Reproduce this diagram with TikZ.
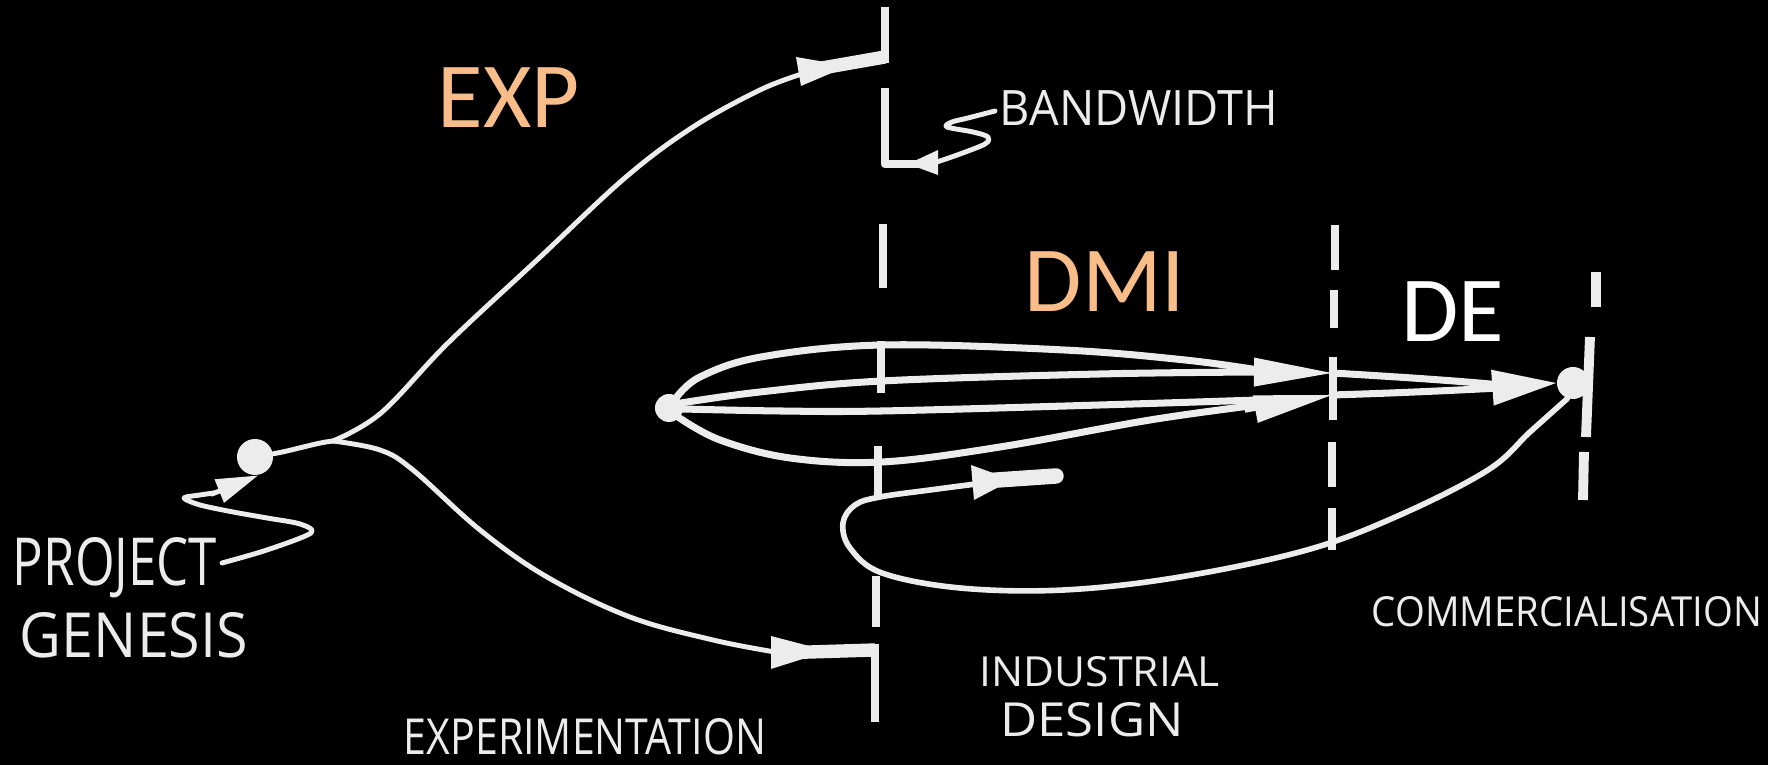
\documentclass[tikz,border=0pt]{standalone}
\usepackage{fontspec}
\usepackage{graphicx}
\newfontfamily\calfont{Carlito}
\newfontfamily\handfont{Open Sans}
\usetikzlibrary{arrows.meta}
\definecolor{chalk}{RGB}{236,236,236}
\definecolor{accent}{RGB}{248,189,137}
\begin{document}
\begin{tikzpicture}[x=0.01cm,y=-0.01cm,line join=round,
  curveline/.style={draw=chalk,line width=1.4pt,line cap=round},
  dmiline/.style={draw=chalk,line width=2pt,line cap=round},
  loopline/.style={draw=chalk,line width=1.6pt,line cap=round},
  vbar/.style={draw=chalk,line width=2.4pt},
  thinbar/.style={draw=chalk,line width=2pt},
  fatbar/.style={draw=chalk,line width=3.8pt},
  dot/.style={circle,fill=chalk,inner sep=0pt},
  bigtxt/.style={font=\calfont\fontsize{26.5}{30}\selectfont,inner sep=0pt},
  hand/.style={text=chalk,inner sep=0pt,font=\handfont},
  headtip/.style={draw=chalk,fill=chalk,line width=1pt}]
\fill[black] (0,0) rectangle (1768,765);
\useasboundingbox (0,0) rectangle (1768,765);

% ---------- labels ----------
\node[bigtxt,text=accent] (exp) at (509,98) {EXP};
\node[bigtxt,text=accent] (dmi) at (1105,282) {DMI};
\node[bigtxt,text=white] (de) at (1453,312) {DE};
\node[hand] (bw) at (1139,108) {\resizebox{2.78cm}{0.35cm}{BANDWIDTH}};
\node[hand] (pj) at (115,568) {\resizebox{2.04cm}{0.48cm}{PROJECT}};
\node[hand] (gn) at (134,635) {\resizebox{2.28cm}{0.45cm}{GENESIS}};
\node[hand] (ex) at (585,737) {\resizebox{3.62cm}{0.36cm}{EXPERIMENTATION}};
\node[hand] (ind) at (1100,672) {\resizebox{2.40cm}{0.30cm}{INDUSTRIAL}};
\node[hand] (des) at (1092,720) {\resizebox{1.83cm}{0.34cm}{DESIGN}};
\node[hand] (com) at (1567,612) {\resizebox{3.90cm}{0.30cm}{COMMERCIALISATION}};

% ---------- dashed stage boundaries ----------
\draw[vbar] (885,7) -- (885,63);
\draw[vbar] (885,88) -- (885,164) -- (925,164);
\draw[vbar] (883,224) -- (883,288);
\draw[vbar] (881,341) -- (881,393);
\draw[vbar] (878,446) -- (878,498);
\draw[vbar] (876,576) -- (876,627);
\draw[vbar] (875,644) -- (875,722);

\draw[thinbar] (1335,225) -- (1335,270);
\draw[thinbar] (1334,290) -- (1334,328);
\draw[thinbar] (1333,357) -- (1333,420);
\draw[thinbar] (1332,442) -- (1332,487);
\draw[thinbar] (1332,508) -- (1332,550);

\draw[line width=2.8pt,draw=chalk] (1596,272) -- (1596,307);
\draw[line width=2.8pt,draw=chalk] (1590,337) -- (1586,437);
\draw[line width=2.8pt,draw=chalk] (1584,452) -- (1583,500);

% ---------- dots ----------
\node[dot,minimum size=0.36cm] (dotA) at (255,457) {};
\node[dot,minimum size=0.28cm] (dotB) at (669,408) {};
\node[dot,minimum size=0.32cm] (dotC) at (1573,383) {};

% ---------- EXP branches ----------
\coordinate (br) at (333,441);
\draw[curveline] (dotA.10) .. controls (295,450) and (315,443) .. (br);
\draw[curveline] plot[smooth,tension=0.6] coordinates {(333,441) (381,413) (448,343) (537,260) (626,177) (693,127) (760,90) (802,74)};
\coordinate (topend) at (885,57);
\draw[fatbar] (805,71) -- (topend);
\fill[chalk] (796,57) -- (801,86) -- (848,66) -- cycle;

\draw[curveline] plot[smooth,tension=0.6] coordinates {(333,441) (380,450) (413,470) (480,530) (547,577) (630,617) (713,640) (775,652)};
\coordinate (lowend) at (875,650);
\draw[fatbar] (778,653) -- (lowend);
\fill[chalk] (771,636) -- (771,669) -- (828,651) -- cycle;

% ---------- bandwidth pointer ----------
\fill[chalk] (938,150) -- (938,175) -- (908,164) -- cycle;
\draw[curveline] plot[smooth,tension=0.55] coordinates {(937,162) (960,154) (985,144) (988,137) (973,132) (947,127) (952,122) (968,118) (995,111)};

% ---------- project genesis pointer ----------
\draw[curveline] plot[smooth,tension=0.5] coordinates {(222,563) (267,550) (311,533) (300,524) (267,518) (233,512) (200,505) (184,498) (200,495) (214,493)};
\draw[curveline,-{Triangle[length=0.42cm,width=0.24cm]}] (212,494) -- (dotA.-80);

% ---------- DMI bundle ----------
\draw[dmiline] plot[smooth,tension=0.6] coordinates {(676,398) (700,377) (761,357) (882,345) (1064,350) (1185,360) (1258,370)};
\draw[dmiline] plot[smooth,tension=0.6] coordinates {(681,403) (760,392) (882,381) (1100,374) (1258,372)};
\draw[dmiline] plot[smooth,tension=0.6] coordinates {(682,409) (780,411) (882,411) (1100,405) (1258,400)};
\draw[dmiline] plot[smooth,tension=0.6] coordinates {(678,417) (720,440) (790,458) (882,462) (1000,447) (1150,420) (1258,405)};
\coordinate (t1) at (1332,373);
\coordinate (t2) at (1332,395);
\draw[headtip,-{Triangle[length=0.78cm,width=0.28cm]}] (1245,372) -- (t1);
\draw[headtip,-{Triangle[length=0.78cm,width=0.27cm]}] (1245,411) -- (t2);

% ---------- DE ----------
\draw[dmiline] (t1) .. controls (1400,377) and (1460,381) .. (1500,385);
\draw[dmiline] (t2) .. controls (1400,393) and (1460,390) .. (1500,388);
\draw[headtip,-{Triangle[length=0.64cm,width=0.35cm]}] (1488,388) -- (dotC.west);

% ---------- feedback loop ----------
\draw[loopline] plot[smooth,tension=0.6] coordinates {(dotC.-110) (1530,432) (1488,470) (1400,515) (1307,550) (1180,577) (1064,590) (960,588) (882,573) (850,548) (843,523) (855,505) (880,497) (930,490) (976,484)};
\coordinate (fbend) at (1056,476);
\draw[draw=chalk,line width=4.4pt,line cap=round] (983,481) -- (fbend);
\fill[chalk] (971,465) -- (974,500) -- (1012,480) -- cycle;
\end{tikzpicture}
\end{document}
